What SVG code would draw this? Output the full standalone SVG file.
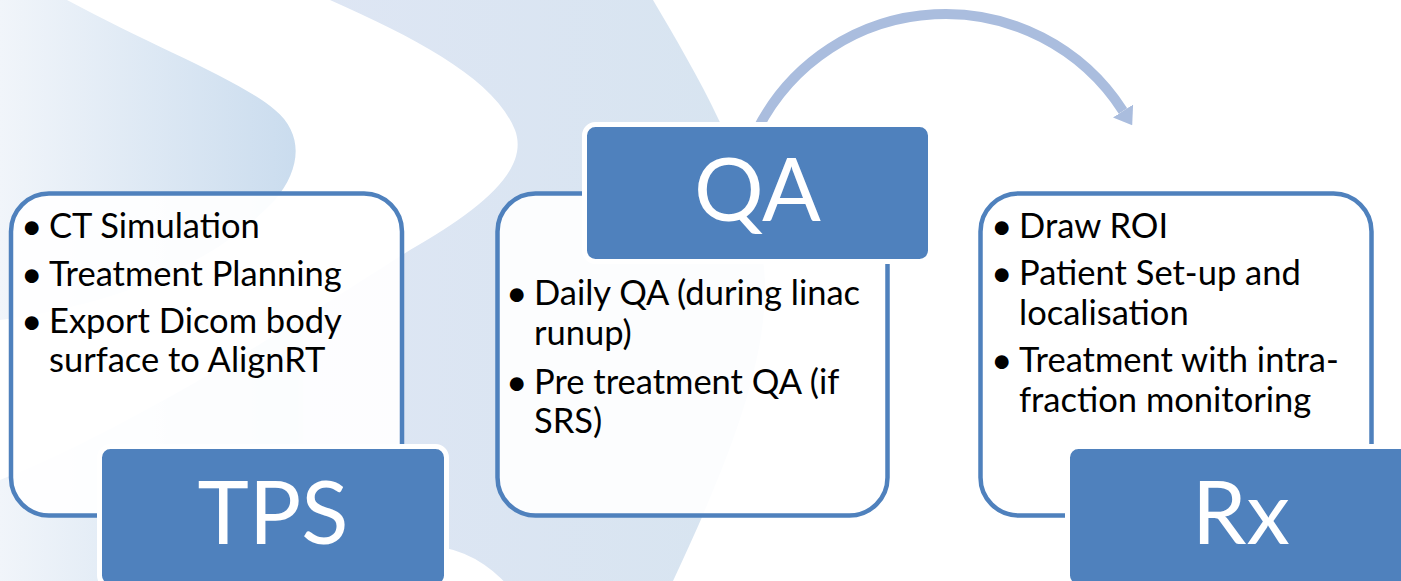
<svg xmlns="http://www.w3.org/2000/svg" width="1401" height="581" viewBox="0 0 1401 581">
  <defs>
    <linearGradient id="bgBlue" gradientUnits="userSpaceOnUse" x1="0" y1="0" x2="760" y2="0">
      <stop offset="0" stop-color="#f1f5fa"/>
      <stop offset="0.39" stop-color="#cadcee"/>
      <stop offset="0.40" stop-color="#dee6f4"/>
      <stop offset="1" stop-color="#d7e4f0"/>
    </linearGradient>
    <marker id="head" markerUnits="userSpaceOnUse" viewBox="0 0 17 24" refX="0" refY="12" markerWidth="17" markerHeight="24" orient="auto">
      <path d="M0,0 L17,12 L0,24 z" fill="#aabdde"/>
    </marker>
  </defs>
  <style>
    .card { fill: #ffffff; fill-opacity: 0.92; stroke: #4f81bd; stroke-width: 4.5; }
    .tag { fill: #4f81bd; stroke: #ffffff; stroke-width: 5; }
    .tagText { font-family: Lato, "Liberation Sans", sans-serif; font-size: 87px; fill: #ffffff; text-anchor: middle; }
    .body { font-family: Lato, "Liberation Sans", sans-serif; font-size: 34.5px; fill: #000000; }
    .dot { font-family: Lato, "Liberation Sans", sans-serif; font-size: 37px; fill: #000000; }
    .flow { fill: none; stroke: #aabdde; stroke-width: 10; }
  </style>

  <!-- backdrop -->
  <rect x="0" y="0" width="1401" height="581" fill="#ffffff"/>
  <path d="M0,0 L653,0 C700,80 760,180 765,280 C768,370 720,480 673,581 L0,581 Z" fill="url(#bgBlue)"/>
  <path d="M67,0 C150,45 240,80 275,110 C305,135 300,170 275,200 C200,280 80,310 0,320 L0,480 C150,420 330,300 410,250 C480,210 530,170 515,130 C495,80 420,40 330,0 Z" fill="#ffffff"/>
  <circle cx="420" cy="660" r="115" fill="#ffffff"/>

  <!-- connectors -->
  <g id="connectors">
    <path class="flow" d="M757.1,130 A211,211 0 0 1 1123,111" marker-end="url(#head)"/>
  </g>

  <!-- TPS -->
  <g id="node-tps">
    <rect class="card" x="11" y="193.5" width="391" height="322" rx="38"/>
    <text class="dot" x="21" y="238.5">•</text>
    <text class="body" x="49" y="238">CT Simulation</text>
    <text class="dot" x="21" y="286.5">•</text>
    <text class="body" x="49" y="286">Treatment Planning</text>
    <text class="dot" x="21" y="333.5">•</text>
    <text class="body" x="49" y="333">Export Dicom body</text>
    <text class="body" x="49" y="372">surface to AlignRT</text>
    <rect class="tag" x="99.5" y="446.5" width="347" height="140" rx="11"/>
    <text class="tagText" x="273" y="544">TPS</text>
  </g>

  <!-- QA -->
  <g id="node-qa">
    <rect class="card" x="497.5" y="193.5" width="390" height="322" rx="38"/>
    <rect class="tag" x="584.5" y="124.5" width="346" height="137" rx="11"/>
    <text class="tagText" x="757.5" y="221">QA</text>
    <text class="dot" x="506" y="305.5">•</text>
    <text class="body" x="534" y="305">Daily QA (during linac</text>
    <text class="body" x="534" y="345">runup)</text>
    <text class="dot" x="506" y="394.5">•</text>
    <text class="body" x="534" y="394">Pre treatment QA (if</text>
    <text class="body" x="534" y="433">SRS)</text>
  </g>

  <!-- Rx -->
  <g id="node-rx">
    <rect class="card" x="980.5" y="193.5" width="391" height="322" rx="38"/>
    <text class="dot" x="991" y="238.5">•</text>
    <text class="body" x="1019" y="238">Draw ROI</text>
    <text class="dot" x="991" y="285.5">•</text>
    <text class="body" x="1019" y="285">Patient Set-up and</text>
    <text class="body" x="1019" y="325">localisation</text>
    <text class="dot" x="991" y="372.5">•</text>
    <text class="body" x="1019" y="372">Treatment with intra-</text>
    <text class="body" x="1019" y="412">fraction monitoring</text>
    <rect class="tag" x="1067.5" y="446.5" width="347" height="140" rx="11"/>
    <text class="tagText" x="1241" y="544">Rx</text>
  </g>
</svg>
